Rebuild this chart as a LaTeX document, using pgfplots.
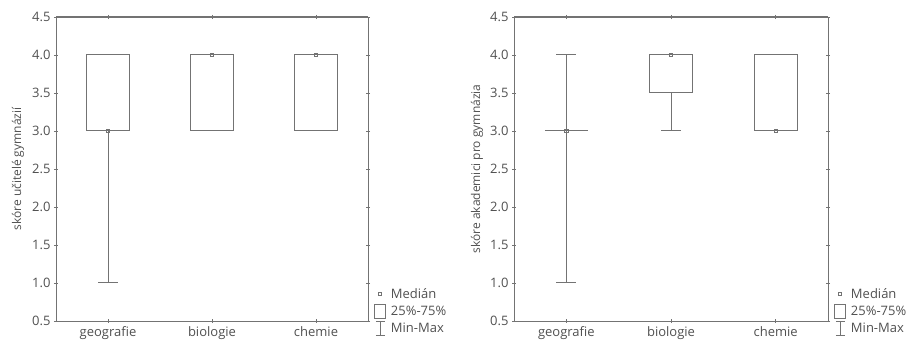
\documentclass[border=0pt]{standalone}
\usepackage{fontspec}
\setmainfont{Open Sans}
\usepackage{pgfplots}
\pgfplotsset{compat=1.18}
\definecolor{ln}{RGB}{115,115,115}
\definecolor{tx}{RGB}{80,80,80}
\pgfplotsset{
 myax/.style={
  scale only axis, height=304pt, anchor=south west,
  xmin=-0.5, xmax=2.5, ymin=0.5, ymax=4.5,
  xtick={0,1,2}, xticklabels={geografie,biologie,chemie},
  ytick={0.5,1.0,1.5,2.0,2.5,3.0,3.5,4.0,4.5},
  yticklabel style={/pgf/number format/fixed, /pgf/number format/fixed zerofill, /pgf/number format/precision=1},
  /pgf/number format/assume math mode=true,
  tick align=center, major tick length=4pt,
  axis line style={ln, line width=0.9pt},
  tick style={ln, line width=0.6pt},
  ticklabel style={font=\fontsize{13}{15}\selectfont, text=tx},
  label style={font=\fontsize{12}{14}\selectfont, text=tx},
  legend style={at={(1.012,0.115)}, anchor=north west, draw=none, fill=none,
    font=\fontsize{13}{15}\selectfont, text=tx, row sep=2pt, inner sep=0pt,
    cells={anchor=west}},
  after end axis/.code={\draw[ln, line width=1.8pt] (rel axis cs:0,1)--(rel axis cs:1,1);},
 },
 bx/.style={ln, line width=1pt, solid, mark=none},
 med/.style={ln, line width=0.7pt, only marks, mark=square, mark size=1.6pt},
 legmed/.style={legend image code/.code={\path[draw=none] (0pt,0pt)--(17pt,0pt);\draw[ln, line width=0.7pt] (6.5pt,-1.6pt) rectangle (9.7pt,1.6pt);}},
 legbox/.style={legend image code/.code={\path[draw=none] (0pt,0pt)--(17pt,0pt);\draw[ln, line width=1pt] (3pt,-7pt) rectangle (14pt,7pt);}},
 legwh/.style={legend image code/.code={\path[draw=none] (0pt,0pt)--(17pt,0pt);\draw[ln, line width=1pt] (4pt,7pt)--(13pt,7pt) (8.5pt,7pt)--(8.5pt,-7pt) (4pt,-7pt)--(13pt,-7pt);}},
}
\begin{document}
\begin{tikzpicture}
\path[use as bounding box] (0,0) rectangle (910pt,344pt);
\begin{axis}[myax, at={(56pt,23pt)}, width=312pt,
  ylabel={skóre učitelé gymnázií},
  ylabel style={at={(axis description cs:-0.122,0.5)}, anchor=center}]
\addlegendimage{legmed}\addlegendentry{Medián}
\addlegendimage{legbox}\addlegendentry{25\%-75\%}
\addlegendimage{legwh}\addlegendentry{Min-Max}
% geografie: min 1, q1 3, med 3, q3 4, max 4
\addplot[bx] coordinates {(-0.205,3) (0.205,3) (0.205,4) (-0.205,4) (-0.205,3)};
\addplot[bx] coordinates {(0,3) (0,1)};
\addplot[bx] coordinates {(-0.095,1) (0.095,1)};
% biologie: min 3, q1 3, med 4, q3 4, max 4
\addplot[bx] coordinates {(0.795,3) (1.205,3) (1.205,4) (0.795,4) (0.795,3)};
% chemie: min 3, q1 3, med 4, q3 4, max 4
\addplot[bx] coordinates {(1.795,3) (2.205,3) (2.205,4) (1.795,4) (1.795,3)};
\addplot[med] coordinates {(0,3) (1,4) (2,4)};
\end{axis}
\begin{axis}[myax, at={(514pt,23pt)}, width=314pt,
  ylabel={skóre akademici pro gymnázia},
  ylabel style={at={(axis description cs:-0.118,0.5)}, anchor=center}]
\addlegendimage{legmed}\addlegendentry{Medián}
\addlegendimage{legbox}\addlegendentry{25\%-75\%}
\addlegendimage{legwh}\addlegendentry{Min-Max}
% geografie: min 1, q1 3, med 3, q3 3, max 4
\addplot[bx] coordinates {(-0.205,3) (0.205,3)};
\addplot[bx] coordinates {(0,1) (0,4)};
\addplot[bx] coordinates {(-0.095,1) (0.095,1)};
\addplot[bx] coordinates {(-0.095,4) (0.095,4)};
% biologie: min 3, q1 3.5, med 4, q3 4, max 4
\addplot[bx] coordinates {(0.795,3.5) (1.205,3.5) (1.205,4) (0.795,4) (0.795,3.5)};
\addplot[bx] coordinates {(1,3.5) (1,3)};
\addplot[bx] coordinates {(0.905,3) (1.095,3)};
% chemie: min 3, q1 3, med 3, q3 4, max 4
\addplot[bx] coordinates {(1.795,3) (2.205,3) (2.205,4) (1.795,4) (1.795,3)};
\addplot[med] coordinates {(0,3) (1,4) (2,3)};
\end{axis}
\end{tikzpicture}
\end{document}
